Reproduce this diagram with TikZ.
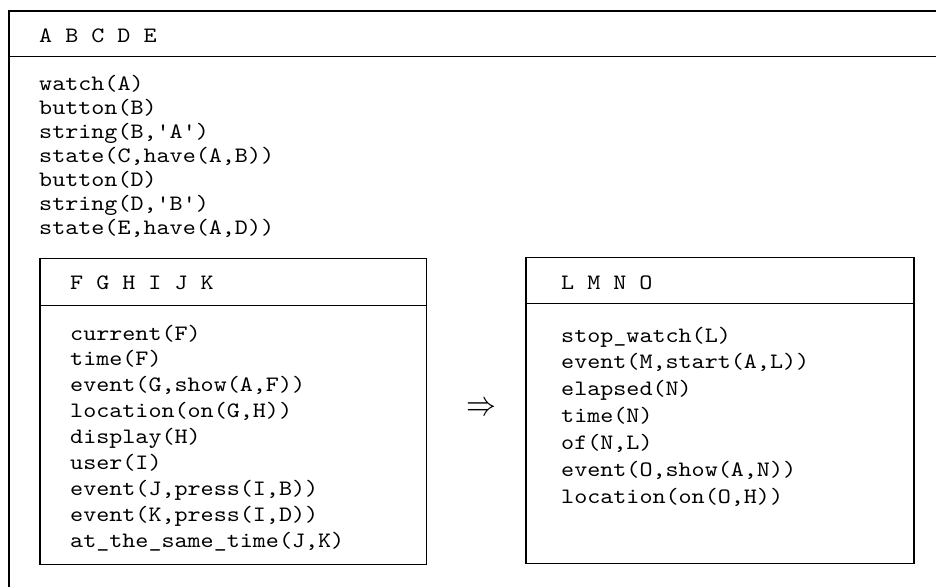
\documentclass[tikz,border=0pt]{standalone}
\usepackage{fontspec}
\setmonofont[FakeStretch=1.13]{lmmono10-regular.otf}
\begin{document}
\begin{tikzpicture}[x=1pt,y=-1pt,
  frame/.style={draw, line width=1.3pt, anchor=north west, inner sep=0pt},
  code/.style={anchor=base west, inner sep=0pt,
    font=\ttfamily\fontsize{22}{24}\selectfont},
  rule/.style={line width=1.3pt}]
\useasboundingbox (0,0) rectangle (936,586);

% outer frame, running past the right and bottom border
\begin{scope}
\clip (0,0) rectangle (936,586);
\node[frame, minimum width=940pt, minimum height=600pt] (outer) at (8.4,10.5) {};
\coordinate (oh) at (8.4,56.5);
\coordinate (ohe) at (950,56.5);
\draw[rule] (oh) -- (ohe);
\end{scope}
\node[code] (ohead) at (39,42) {A B C D E};
\foreach \t [count=\i] in {{watch(A)},{button(B)},{string(B,'A')},{state(C,have(A,B))},
    {button(D)},{string(D,'B')},{state(E,have(A,D))}}
  \node[code] (ob\i) at (39,{90+24.1*(\i-1)}) {\t};

% left inner box
\node[frame, minimum width=386.3pt, minimum height=305.5pt] (lbox) at (39.4,258) {};
\draw[rule] ([yshift=-47.7pt]lbox.north west) -- ([yshift=-47.7pt]lbox.north east);
\node[code] (lhead) at (70,289.6) {F G H I J K};
\foreach \t [count=\i] in {{current(F)},{time(F)},{event(G,show(A,F))},{location(on(G,H))},
    {display(H)},{user(I)},{event(J,press(I,B))},{event(K,press(I,D))},{at\_the\_same\_time(J,K)}}
  \node[code] (lb\i) at (70,{340+25.9*(\i-1)}) {\t};

% right inner box
\node[frame, minimum width=388pt, minimum height=306.1pt] (rbox) at (525.4,256.7) {};
\draw[rule] ([yshift=-46.7pt]rbox.north west) -- ([yshift=-46.7pt]rbox.north east);
\node[code] (rhead) at (561,289.6) {L M N O};
\foreach \t [count=\i] in {{stop\_watch(L)},{event(M,start(A,L))},{elapsed(N)},{time(N)},
    {of(N,L)},{event(O,show(A,N))},{location(on(O,H))}}
  \node[code] (rb\i) at (561,{342+26.9*(\i-1)}) {\t};

% implication sign between the boxes
\node[inner sep=0pt, xscale=1.2, yscale=1.4, font=\fontsize{24.88}{25}\selectfont] (imp) at (481,409) {$\Rightarrow$};
\end{tikzpicture}
\end{document}
